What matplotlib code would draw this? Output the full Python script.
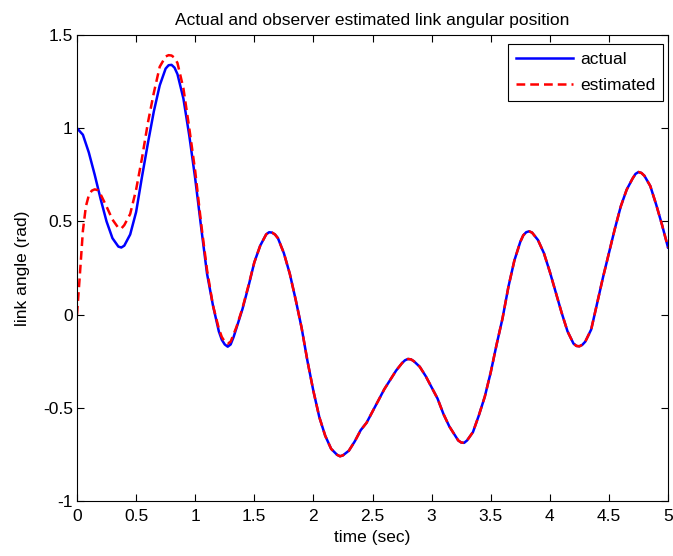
import numpy as np
import matplotlib
matplotlib.use("Agg")
import matplotlib.pyplot as plt

plt.rcParams['font.family'] = ['Liberation Sans', 'DejaVu Sans']

# actual link angle
time = [0.00, 0.05, 0.10, 0.15, 0.20, 0.25, 0.30, 0.35, 0.375, 0.40,
        0.45, 0.50, 0.55, 0.60, 0.65, 0.70, 0.75, 0.775, 0.80, 0.825,
        0.85, 0.90, 0.95, 1.00, 1.05, 1.10, 1.15, 1.20, 1.225, 1.25,
        1.275, 1.30, 1.325, 1.35, 1.40, 1.45, 1.50, 1.55, 1.60, 1.625,
        1.65, 1.675, 1.70, 1.75, 1.80, 1.85, 1.90, 1.95, 2.00, 2.05,
        2.10, 2.15, 2.20, 2.225, 2.25, 2.30, 2.35, 2.40, 2.45, 2.50,
        2.55, 2.60, 2.65, 2.70, 2.75, 2.775, 2.80, 2.825, 2.85, 2.90,
        2.95, 3.00, 3.05, 3.10, 3.15, 3.20, 3.225, 3.25, 3.275, 3.30,
        3.35, 3.40, 3.45, 3.50, 3.55, 3.60, 3.65, 3.70, 3.75, 3.775,
        3.80, 3.825, 3.85, 3.90, 3.95, 4.00, 4.05, 4.10, 4.15, 4.20,
        4.225, 4.25, 4.275, 4.30, 4.35, 4.40, 4.45, 4.50, 4.55, 4.60,
        4.65, 4.70, 4.725, 4.75, 4.775, 4.80, 4.85, 4.90, 4.95, 5.00]
actual = [1.00, 0.965, 0.87, 0.75, 0.62, 0.50, 0.41, 0.365, 0.36, 0.37,
          0.43, 0.55, 0.74, 0.92, 1.09, 1.23, 1.32, 1.338, 1.34, 1.325,
          1.29, 1.16, 0.96, 0.73, 0.47, 0.22, 0.05, -0.09, -0.135, -0.16,
          -0.172, -0.16, -0.12, -0.07, 0.03, 0.15, 0.28, 0.37, 0.43, 0.442,
          0.44, 0.43, 0.41, 0.33, 0.22, 0.08, -0.07, -0.25, -0.41, -0.55,
          -0.65, -0.72, -0.752, -0.76, -0.755, -0.73, -0.68, -0.62, -0.58, -0.52,
          -0.46, -0.40, -0.35, -0.30, -0.26, -0.245, -0.238, -0.24, -0.25, -0.28,
          -0.33, -0.39, -0.45, -0.533, -0.60, -0.65, -0.675, -0.686, -0.688, -0.675,
          -0.63, -0.54, -0.44, -0.31, -0.16, -0.02, 0.15, 0.29, 0.39, 0.425,
          0.442, 0.447, 0.44, 0.40, 0.33, 0.23, 0.12, 0.01, -0.09, -0.155,
          -0.168, -0.17, -0.162, -0.145, -0.08, 0.06, 0.20, 0.33, 0.46, 0.58,
          0.67, 0.73, 0.755, 0.765, 0.76, 0.745, 0.69, 0.59, 0.48, 0.36]

# observer estimate during the transient; afterwards it tracks the actual angle
est_time_early = [0, 0.025, 0.05, 0.075, 0.10, 0.125, 0.15, 0.175, 0.20, 0.25,
                  0.30, 0.35, 0.375, 0.40, 0.45, 0.50, 0.55, 0.60, 0.65, 0.70,
                  0.75, 0.775, 0.80, 0.825, 0.85, 0.90, 0.95, 1.00, 1.05, 1.10,
                  1.15, 1.20, 1.225, 1.25, 1.275, 1.30, 1.35, 1.40, 1.45, 1.50]
est_early = [0.0, 0.22, 0.45, 0.58, 0.64, 0.665, 0.672, 0.668, 0.645, 0.58,
             0.51, 0.465, 0.462, 0.48, 0.54, 0.67, 0.84, 1.03, 1.19, 1.33,
             1.385, 1.392, 1.39, 1.378, 1.35, 1.215, 1.00, 0.77, 0.49, 0.24,
             0.05, -0.075, -0.12, -0.145, -0.156, -0.145, -0.065, 0.035, 0.155, 0.28]
k = time.index(1.55)
est_time = est_time_early + time[k:]
estimated = est_early + actual[k:]

fs = 12.5
fig = plt.figure(figsize=(6.73, 5.56), dpi=100)
ax = fig.add_axes([0.1144, 0.0989, 0.8782, 0.8381])

ax.plot(time, actual, color='#0000ff', lw=1.8, label='actual')
ax.plot(est_time, estimated, color='#ff0000', lw=1.8, ls=(0, (3.5, 2)), label='estimated')

ax.set_xlim(0, 5)
ax.set_ylim(-1, 1.5)
ax.set_xticks(np.arange(0, 5.01, 0.5))
ax.set_xticklabels(['0', '0.5', '1', '1.5', '2', '2.5', '3', '3.5', '4', '4.5', '5'])
ax.set_yticks([-1, -0.5, 0, 0.5, 1, 1.5])
ax.set_yticklabels(['-1', '-0.5', '0', '0.5', '1', '1.5'])
ax.tick_params(direction='in', top=True, right=True, length=5, width=0.8,
               labelsize=fs)
ax.tick_params(axis='x', pad=6)
ax.tick_params(axis='y', pad=3)
for s in ax.spines.values():
    s.set_linewidth(0.8)

ax.set_title('Actual and observer estimated link angular position', fontsize=fs, pad=7)
ax.set_xlabel('time (sec)', fontsize=fs, labelpad=4)
ax.set_ylabel('link angle (rad)', fontsize=fs, labelpad=9)

leg = ax.legend(loc='upper right', bbox_to_anchor=(0.9915, 0.9807), fontsize=fs,
                fancybox=False, framealpha=1, edgecolor='black', borderaxespad=0,
                handlelength=3.3, handletextpad=0.4, borderpad=0.45, labelspacing=0.65)
leg.get_frame().set_linewidth(0.8)

fig.savefig('out.png', dpi=100)
